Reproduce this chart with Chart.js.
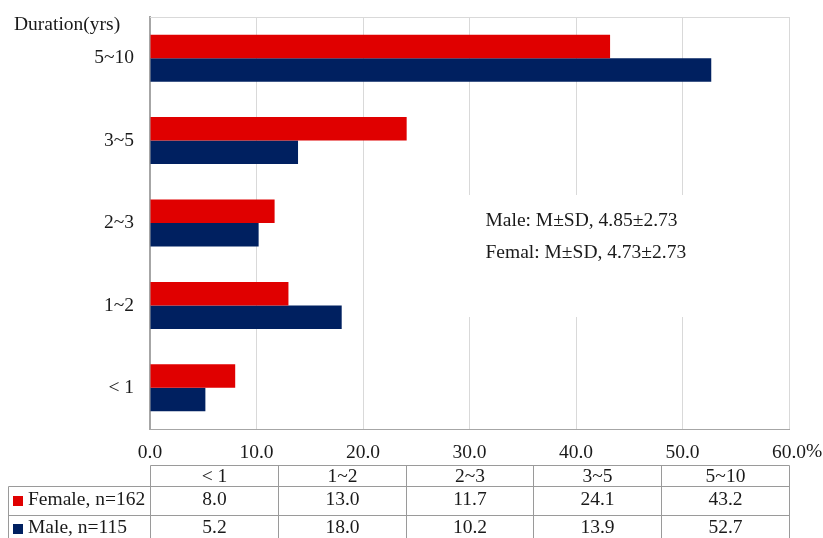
<!DOCTYPE html>
<html>
<head>
<meta charset="utf-8">
<script src="https://cdn.jsdelivr.net/npm/chart.js@4/dist/chart.umd.min.js"></script>
<style>
  html, body { margin: 0; padding: 0; background: #fff; }
  #wrap { width: 823px; height: 538px; position: relative; }
</style>
</head>
<body>
<div id="wrap"><canvas id="c" width="823" height="538"></canvas></div>
<script>
// ---- data ----
const categories = ['< 1', '1~2', '2~3', '3~5', '5~10'];
const femaleValues = [8.0, 13.0, 11.7, 24.1, 43.2];
const maleValues = [5.2, 18.0, 10.2, 13.9, 52.7];
const seriesLabels = ['Female, n=162', 'Male, n=115'];
const xTickValues = [0, 10, 20, 30, 40, 50, 60];
const xUnit = '%';
const yAxisTitle = 'Duration(yrs)';
const statLines = ['Male: M\u00B1SD, 4.85\u00B12.73', 'Femal: M\u00B1SD, 4.73\u00B12.73'];

const RED = '#e00000';
const NAVY = '#002060';
const FONT = '"Liberation Serif", "Times New Roman", serif';
const TXT = '#1a1a1a';
const FS = 19.5;

Chart.defaults.font.family = FONT;
Chart.defaults.font.size = FS;
Chart.defaults.color = TXT;

const overlay = {
  id: 'overlay',
  afterDatasetsDraw(chart) {
    const { ctx, chartArea: a, scales: { x, y } } = chart;
    ctx.save();
    // top light border
    ctx.strokeStyle = '#d9d9d9';
    ctx.lineWidth = 1;
    ctx.beginPath();
    ctx.moveTo(a.left, a.top + 0.5); ctx.lineTo(a.right, a.top + 0.5);
    ctx.stroke();
    // white text box with stats
    const bx0 = x.getPixelForValue(29.3), bx1 = x.getPixelForValue(51.5);
    ctx.fillStyle = '#fff';
    ctx.fillRect(bx0, 195, bx1 - bx0, 122);
    ctx.fillStyle = TXT;
    ctx.font = FS + 'px ' + FONT;
    ctx.textAlign = 'left';
    ctx.textBaseline = 'middle';
    const tx = x.getPixelForValue(31.5);
    ctx.fillText(statLines[0], tx, 221);
    ctx.fillText(statLines[1], tx, 253);
    ctx.restore();
  },
  afterDraw(chart) {
    const { ctx, chartArea: a, scales: { x } } = chart;
    ctx.save();
    ctx.font = FS + 'px ' + FONT;
    ctx.fillStyle = TXT;
    // axis title
    ctx.textAlign = 'left';
    ctx.textBaseline = 'middle';
    ctx.fillText(yAxisTitle, 14, 25);
    // unit after last tick
    const lastVal = xTickValues[xTickValues.length - 1];
    const lastLbl = lastVal.toFixed(1);
    const ux = x.getPixelForValue(lastVal) + ctx.measureText(lastLbl).width / 2;
    ctx.fillText(xUnit, ux, 452);

    // data table
    const n = categories.length;
    const maxV = lastVal;
    const colEdges = [];
    for (let i = 0; i <= n; i++) colEdges.push(Math.round(x.getPixelForValue(maxV * i / n)) + 0.5);
    const yHead = 465.5, yR1 = 486.5, yR2 = 515.5, yEnd = 545, legL = 8.5;
    ctx.strokeStyle = '#9a9a9a';
    ctx.lineWidth = 1;
    ctx.beginPath();
    ctx.moveTo(colEdges[0], yHead); ctx.lineTo(colEdges[n], yHead);
    ctx.moveTo(legL, yR1); ctx.lineTo(colEdges[n], yR1);
    ctx.moveTo(legL, yR2); ctx.lineTo(colEdges[n], yR2);
    ctx.moveTo(legL, yR1); ctx.lineTo(legL, yEnd);
    colEdges.forEach(cx => { ctx.moveTo(cx, yHead); ctx.lineTo(cx, yEnd); });
    ctx.stroke();

    ctx.textAlign = 'center';
    ctx.textBaseline = 'middle';
    const rows = [femaleValues, maleValues];
    const rowY = [500, 528];
    for (let i = 0; i < n; i++) {
      const cx = (colEdges[i] + colEdges[i + 1]) / 2;
      ctx.fillText(categories[i], cx, 477);
      rows.forEach((r, k) => ctx.fillText(r[i].toFixed(1), cx, rowY[k]));
    }
    // legend cells
    const cols = [RED, NAVY];
    ctx.textAlign = 'left';
    seriesLabels.forEach((s, k) => {
      ctx.fillStyle = cols[k];
      ctx.fillRect(13, rowY[k] - 4, 10, 10);
      ctx.fillStyle = TXT;
      ctx.fillText(s, 28, rowY[k]);
    });
    ctx.restore();
  }
};

new Chart(document.getElementById('c'), {
  type: 'bar',
  data: {
    labels: categories,
    datasets: [
      { label: seriesLabels[0], data: femaleValues, backgroundColor: RED, borderWidth: 0 },
      { label: seriesLabels[1], data: maleValues, backgroundColor: NAVY, borderWidth: 0 }
    ]
  },
  options: {
    indexAxis: 'y',
    responsive: false,
    animation: false,
    devicePixelRatio: 1,
    layout: { padding: { left: 0, right: 34, top: 17, bottom: 0 } },
    categoryPercentage: 0.57,
    barPercentage: 1.0,
    plugins: { legend: { display: false }, tooltip: { enabled: false } },
    scales: {
      x: {
        min: 0, max: 60,
        afterBuildTicks: (s) => { s.ticks = xTickValues.map(v => ({ value: v })); },
        afterFit: (s) => { s.height = 109; s.paddingRight = 0; s.paddingLeft = 0; },
        ticks: { padding: 12, color: TXT, callback: (v) => Number(v).toFixed(1), maxRotation: 0 },
        grid: { color: '#d9d9d9', lineWidth: 1, drawTicks: false },
        border: { display: true, color: '#a6a6a6', width: 1 }
      },
      y: {
        reverse: true,
        afterFit: (s) => { s.width = 150; s.paddingTop = 0; s.paddingBottom = 0; },
        ticks: { padding: 16, color: TXT },
        grid: { display: false, drawTicks: false },
        border: { display: true, color: '#a6a6a6', width: 2 }
      }
    }
  },
  plugins: [overlay]
});
</script>
</body>
</html>
